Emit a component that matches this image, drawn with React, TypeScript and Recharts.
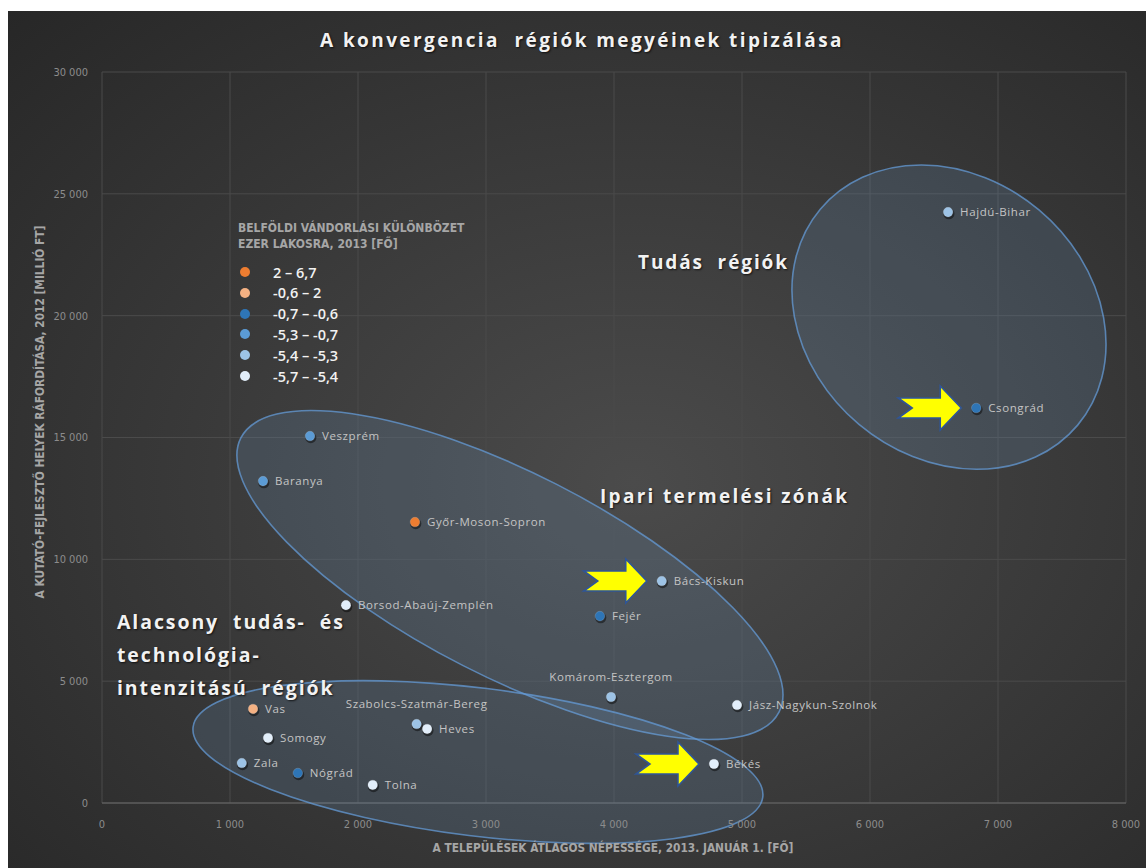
import { ScatterChart, Scatter, XAxis, YAxis, CartesianGrid } from 'recharts'

// megyék: átlagos településnépesség (fő) és K+F ráfordítás (millió Ft)
const counties = [
  'Hajdú-Bihar', 'Csongrád', 'Veszprém', 'Baranya', 'Győr-Moson-Sopron', 'Bács-Kiskun',
  'Borsod-Abaúj-Zemplén', 'Fejér', 'Komárom-Esztergom', 'Jász-Nagykun-Szolnok', 'Vas',
  'Szabolcs-Szatmár-Bereg', 'Heves', 'Somogy', 'Zala', 'Nógrád', 'Tolna', 'Békés',
]
const population = [6610, 6830, 1625, 1258, 2445, 4373, 1906, 3890, 3977, 4961, 1180, 2458, 2540, 1297, 1092, 1530, 2115, 4781]
const rdSpending = [24250, 16210, 15060, 13210, 11530, 9110, 8120, 7670, 4350, 4020, 3860, 3240, 3040, 2670, 1640, 1230, 740, 1600]
// index into the migration legend classes
const migrationClass = [4, 2, 3, 3, 0, 4, 5, 2, 4, 5, 1, 4, 5, 5, 4, 2, 5, 5]

const legendRanges = ['2 – 6,7', '-0,6 – 2', '-0,7 – -0,6', '-5,3 – -0,7', '-5,4 – -5,3', '-5,7 – -5,4']
const legendColors = ['#ed7d31', '#f4b183', '#2e75b6', '#5b9bd5', '#9dc3e6', '#e2eefa']

const highlighted = ['Csongrád', 'Bács-Kiskun', 'Békés']

// region ellipses, centres in data units
const regionNames = ['Tudás régiók', 'Ipari termelési zónák', 'Alacsony tudás- és technológia-intenzitású régiók']
const regionX = [6617, 3187, 2937]
const regionY = [19940, 9356, 1682]

const xTicks = [0, 1000, 2000, 3000, 4000, 5000, 6000, 7000, 8000]
const yTicks = [0, 5000, 10000, 15000, 20000, 25000, 30000]

const ellipseStyle: Record<string, { rx: number; ry: number; rot: number }> = {
  'Tudás régiók': { rx: 168, ry: 140, rot: 40 },
  'Ipari termelési zónák': { rx: 302, ry: 102, rot: 27 },
  'Alacsony tudás- és technológia-intenzitású régiók': { rx: 287, ry: 74, rot: 7 },
}
const labelAbove = new Set(['Szabolcs-Szatmár-Bereg', 'Komárom-Esztergom'])

const W = 1138
const H = 857
const font = '"Open Sans", "DejaVu Sans", sans-serif'
const narrow = '"Liberation Sans Narrow", "DejaVu Sans Condensed", Roboto, sans-serif'

const fmt = (v: number) => String(v).replace(/\B(?=(\d{3})+(?!\d))/g, ' ')

const points = counties.map((name, i) => ({
  name,
  x: population[i],
  y: rdSpending[i],
  cls: migrationClass[i],
}))
const arrows = points.filter((p) => highlighted.includes(p.name))
const regions = regionNames.map((name, i) => ({ name, x: regionX[i], y: regionY[i] }))

function CountyDot(props: any) {
  const { cx, cy, payload } = props
  const above = labelAbove.has(payload.name)
  return (
    <g>
      <circle cx={cx + 0.8} cy={cy + 1.6} r={5.6} fill="rgba(0,0,0,0.45)" />
      <circle cx={cx} cy={cy} r={4.8} fill={legendColors[payload.cls]} stroke="rgba(255,255,255,0.2)" strokeWidth={0.8} />
      <text
        x={above ? cx : cx + 12}
        y={above ? cy - 16 : cy + 4}
        textAnchor={above ? 'middle' : 'start'}
        fill="#c4c4c4"
        fontSize={11.5}
        fontFamily={font}
        letterSpacing={0.6}
      >
        {payload.name}
      </text>
    </g>
  )
}

function RegionEllipse(props: any) {
  const { cx, cy, payload } = props
  const s = ellipseStyle[payload.name]
  return (
    <ellipse
      cx={cx}
      cy={cy}
      rx={s.rx}
      ry={s.ry}
      transform={`rotate(${s.rot} ${cx} ${cy})`}
      fill="rgba(120,165,215,0.17)"
      stroke="rgba(100,155,215,0.75)"
      strokeWidth={1.6}
    />
  )
}

function Arrow(props: any) {
  const { cx, cy } = props
  const t = cx - 15
  const d = [
    [t, cy], [t - 21, cy - 22], [t - 21, cy - 10], [t - 63, cy - 10],
    [t - 49, cy], [t - 63, cy + 10], [t - 21, cy + 10], [t - 21, cy + 22],
  ].map((p) => p.join(',')).join(' ')
  return <polygon points={d} fill="#ffff00" stroke="#2f5597" strokeWidth={1.6} strokeLinejoin="miter" />
}

const regionLabel = {
  position: 'absolute' as const,
  color: '#f2f2f2',
  fontFamily: font,
  fontWeight: 700,
  fontSize: 19,
  letterSpacing: 1.9,
  textShadow: '1px 1px 2px rgba(0,0,0,0.7)',
  whiteSpace: 'pre' as const,
  lineHeight: '24px',
}

const axisTitle = {
  position: 'absolute' as const,
  color: '#a6a6a6',
  fontFamily: narrow,
  fontSize: 11.8,
  fontWeight: 600,
  whiteSpace: 'nowrap' as const,
}

export default function App() {
  return (
    <div
      style={{
        position: 'absolute',
        left: 8,
        top: 11,
        width: W,
        height: H,
        background: 'radial-gradient(ellipse at 55% 55%, #4b4b4b 0%, #3b3b3b 45%, #272727 100%)',
        overflow: 'hidden',
      }}
    >
      <ScatterChart width={W} height={H} margin={{ top: 61, right: 20, bottom: 35, left: 34 }}>
        <CartesianGrid stroke="#4b4b4b" strokeWidth={1} />
        <XAxis
          type="number"
          dataKey="x"
          domain={[0, 8000]}
          ticks={xTicks}
          tickFormatter={fmt}
          stroke="#686868"
          tickLine={false}
          tickMargin={11}
          height={30}
          tick={{ fill: '#8c8c8c', fontSize: 11, fontFamily: narrow }}
        />
        <YAxis
          type="number"
          dataKey="y"
          domain={[0, 30000]}
          ticks={yTicks}
          tickFormatter={fmt}
          axisLine={false}
          tickLine={false}
          tickMargin={8}
          width={60}
          tick={{ fill: '#8c8c8c', fontSize: 11, fontFamily: narrow }}
        />
        <Scatter data={regions} shape={RegionEllipse} isAnimationActive={false} />
        <Scatter data={arrows} shape={Arrow} isAnimationActive={false} />
        {legendRanges.map((r, k) => (
          <Scatter
            key={r}
            name={r}
            data={points.filter((p) => p.cls === k)}
            fill={legendColors[k]}
            shape={CountyDot}
            isAnimationActive={false}
          />
        ))}
      </ScatterChart>

      <div
        style={{
          position: 'absolute',
          left: 0,
          width: 1148,
          top: 16,
          textAlign: 'center',
          color: '#f2f2f2',
          fontFamily: font,
          fontWeight: 700,
          fontSize: 19,
          letterSpacing: 2.4,
          whiteSpace: 'pre',
          textShadow: '1px 1px 2px rgba(0,0,0,0.7)',
        }}
      >
        A konvergencia  régiók megyéinek tipizálása
      </div>

      <div style={{ position: 'absolute', left: 230, top: 210, color: '#a6a6a6', fontFamily: narrow, fontWeight: 600, fontSize: 12, lineHeight: '15.5px' }}>
        <div>BELFÖLDI VÁNDORLÁSI KÜLÖNBÖZET</div>
        <div>EZER LAKOSRA, 2013 [FŐ]</div>
      </div>
      {legendRanges.map((r, k) => (
        <div key={r} style={{ position: 'absolute', left: 232, top: 252 + k * 20.8, height: 18, display: 'flex', alignItems: 'center' }}>
          <span style={{ width: 10, height: 10, borderRadius: 5, background: legendColors[k], display: 'inline-block' }} />
          <span style={{ marginLeft: 23, color: '#f2f2f2', fontFamily: font, fontWeight: 600, fontSize: 14.5 }}>{r}</span>
        </div>
      ))}

      <div style={{ ...regionLabel, left: 630, top: 239 }}>Tudás  régiók</div>
      <div style={{ ...regionLabel, left: 592, top: 473, letterSpacing: 2.3 }}>Ipari termelési zónák</div>
      <div style={{ ...regionLabel, left: 109, top: 594, fontSize: 19.5, letterSpacing: 1.9, lineHeight: '33px' }}>
        {'Alacsony  tudás-  és\ntechnológia-\nintenzitású  régiók'}
      </div>

      <div style={{ ...axisTitle, left: 32, top: 401, transform: 'translate(-50%, -50%) rotate(-90deg)' }}>
        A KUTATÓ-FEJLESZTŐ HELYEK RÁFORDÍTÁSA, 2012 [MILLIÓ FT]
      </div>
      <div style={{ ...axisTitle, left: 605, top: 837, transform: 'translate(-50%, -50%)' }}>
        A TELEPÜLÉSEK ÁTLAGOS NÉPESSÉGE, 2013. JANUÁR 1. [FŐ]
      </div>
    </div>
  )
}
